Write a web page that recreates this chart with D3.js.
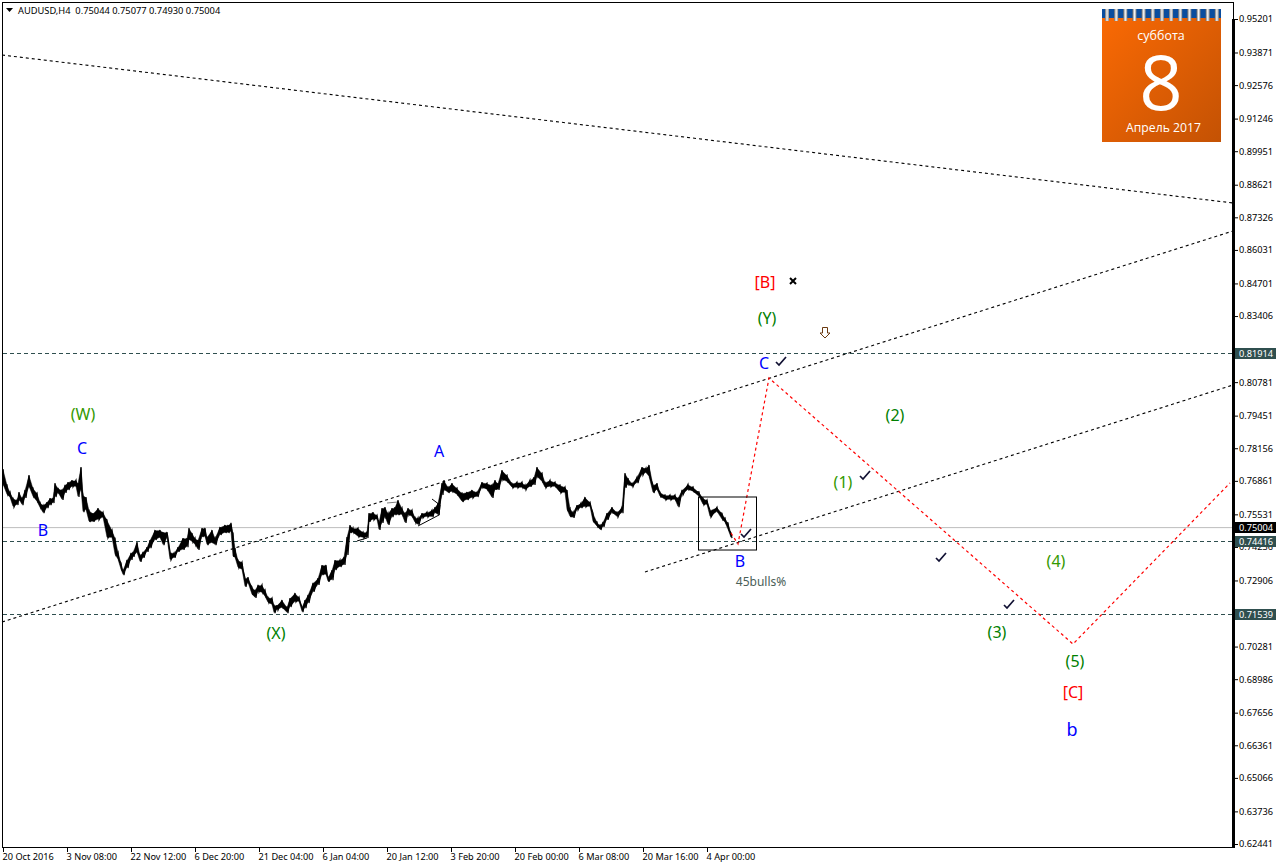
<!DOCTYPE html>
<html><head><meta charset="utf-8">
<style>
html,body{margin:0;padding:0;background:#fff;}
svg{display:block;}
text{font-family:"Noto Sans","Open Sans",sans-serif;}
.domain{display:none;}
</style>
<script src="https://cdn.jsdelivr.net/npm/d3@7"></script>
</head><body><div id="c"></div>
<script>
const priceTicks=[0.95201,0.93871,0.92576,0.91246,0.89951,0.88621,0.87326,0.86031,0.84701,0.83406,0.82076,0.80781,0.79451,0.78156,0.76861,0.75531,0.74236,0.72906,0.71611,0.70281,0.68986,0.67656,0.66361,0.65066,0.63736,0.62441];
const hiddenPriceLabels=[0.82076,0.71611];
const timeBars=[3,67,131,195,259,323,387,451,515,579,643,707];
const timeLabels=["20 Oct 2016","3 Nov 08:00","22 Nov 12:00","6 Dec 20:00","21 Dec 04:00","6 Jan 04:00","20 Jan 12:00","3 Feb 20:00","20 Feb 00:00","6 Mar 08:00","20 Mar 16:00","4 Apr 00:00"];
const bars=[3,7,10,13,17,19,22,25,29,33,37,40,43,47,50,53,55,58,62,65,68,72,76,78,81,83,86,89,93,98,103,107,112,115,118,121,123,127,131,133,137,140,143,147,150,155,160,163,167,170,174,178,183,187,189,192,195,198,202,205,207,212,215,220,225,228,231,233,235,238,242,245,248,252,255,258,262,265,268,272,274,277,282,287,290,295,299,302,305,308,313,318,322,326,328,332,335,340,344,347,350,353,358,363,367,369,373,377,379,382,385,388,392,395,398,402,405,408,412,415,418,422,427,432,435,438,442,444,448,452,457,462,467,472,477,482,487,492,495,498,502,507,512,517,522,525,530,534,537,542,545,550,555,560,565,567,570,573,577,581,585,590,593,597,600,603,607,612,617,622,625,628,632,637,642,646,649,653,657,660,665,670,675,678,682,688,693,699,703,707,710,717,722,725,728,731];
const highs=[.7733,.7670,.7642,.7618,.7610,.7642,.7618,.7650,.7709,.7658,.7638,.7602,.7590,.7602,.7618,.7618,.7677,.7658,.7650,.7670,.7681,.7689,.7689,.7677,.7741,.7630,.7622,.7570,.7558,.7578,.7562,.7531,.7491,.7459,.7404,.7360,.7332,.7372,.7400,.7404,.7443,.7392,.7404,.7423,.7451,.7491,.7491,.7483,.7483,.7404,.7400,.7423,.7459,.7459,.7499,.7479,.7459,.7451,.7499,.7499,.7463,.7491,.7459,.7503,.7511,.7511,.7519,.7479,.7419,.7372,.7364,.7300,.7304,.7265,.7253,.7273,.7273,.7253,.7225,.7221,.7193,.7193,.7213,.7185,.7221,.7241,.7225,.7185,.7213,.7233,.7281,.7300,.7352,.7352,.7304,.7332,.7372,.7372,.7384,.7463,.7511,.7499,.7499,.7483,.7483,.7558,.7562,.7550,.7523,.7578,.7582,.7558,.7578,.7582,.7610,.7578,.7558,.7578,.7570,.7542,.7539,.7558,.7562,.7570,.7582,.7598,.7677,.7689,.7662,.7677,.7658,.7638,.7642,.7650,.7642,.7681,.7677,.7670,.7689,.7677,.7729,.7709,.7677,.7681,.7681,.7670,.7689,.7701,.7741,.7717,.7681,.7689,.7681,.7670,.7662,.7650,.7578,.7562,.7590,.7598,.7622,.7602,.7558,.7523,.7511,.7523,.7558,.7582,.7562,.7582,.7717,.7697,.7677,.7701,.7741,.7737,.7749,.7670,.7677,.7642,.7630,.7630,.7630,.7618,.7650,.7673,.7662,.7642,.7618,.7610,.7570,.7582,.7558,.7539,.7519,.7479];
const lows=[.7670,.7630,.7618,.7582,.7590,.7610,.7590,.7618,.7662,.7622,.7602,.7578,.7558,.7578,.7590,.7598,.7622,.7638,.7610,.7638,.7650,.7662,.7662,.7622,.7650,.7562,.7570,.7523,.7523,.7531,.7539,.7459,.7459,.7392,.7372,.7332,.7312,.7340,.7372,.7384,.7400,.7364,.7380,.7404,.7419,.7451,.7459,.7431,.7459,.7372,.7380,.7404,.7412,.7423,.7451,.7443,.7431,.7412,.7463,.7463,.7431,.7439,.7431,.7471,.7479,.7479,.7483,.7384,.7380,.7340,.7332,.7265,.7280,.7233,.7221,.7245,.7241,.7225,.7201,.7193,.7161,.7173,.7181,.7161,.7185,.7205,.7205,.7165,.7181,.7201,.7245,.7273,.7312,.7312,.7285,.7292,.7332,.7344,.7352,.7392,.7479,.7479,.7463,.7459,.7459,.7523,.7531,.7531,.7491,.7519,.7542,.7511,.7542,.7550,.7550,.7550,.7519,.7550,.7542,.7519,.7511,.7539,.7542,.7542,.7558,.7550,.7630,.7650,.7638,.7642,.7630,.7602,.7610,.7618,.7622,.7658,.7650,.7618,.7650,.7650,.7689,.7681,.7658,.7658,.7658,.7650,.7662,.7670,.7701,.7681,.7658,.7662,.7662,.7638,.7638,.7570,.7542,.7539,.7570,.7578,.7582,.7582,.7523,.7503,.7491,.7503,.7531,.7558,.7542,.7558,.7658,.7670,.7662,.7677,.7709,.7717,.7701,.7638,.7650,.7622,.7610,.7610,.7610,.7582,.7630,.7650,.7642,.7622,.7590,.7590,.7542,.7562,.7531,.7519,.7491,.7459];
const solidLevel=0.75004;
const dashedLevels=[0.81914,0.74416,0.71539];
const trendBars=[[2,1233],[2,1233],[645,1233]];
const trendPrices=[[.93771,.87895],[.71256,.86783],[.73242,.80667]];
const forecastBars=[731,738,769,1073,1230];
const forecastPrices=[.74790,.74353,.80945,.70383,.76776];
const boxBars=[698,756];
const boxPrices=[.76220,.74115];
const channelBars=[[418,439],[432,440],[440,439],[357,367]];
const channelPrices=[[.75068,.75505],[.76140,.75902],[.75902,.75505],[.74473,.74592]];
const greyBars=[387,398];
const greyPrices=[.75982,.76021];
const labelText=["[B]","(Y)","C","(W)","C","B","A","(X)","B","45bulls%","(2)","(1)","(4)","(3)","(5)","[C]","b"];
const labelBars=[765,767,764,83,82,43,439,276,740,761,895,843,1056,997,1075,1073,1072];
const labelPrices=[.84757,.83328,.81541,.79516,.78166,.74909,.78047,.70819,.73679,.72884,.79476,.76816,.73679,.70859,.69708,.68477,.67007];
const labelColors=["#ff0000","#008000","#0000ff","#339900","#0000ff","#0000ff","#0000ff","#008000","#0000ff","#4a6058","#008000","#339900","#339900","#008000","#008000","#ff0000","#0000ff"];
const labelSizes=[16,16,16,16,16,16,16,16,16,12,16,16,16,16,16,16,18];
const checkBars=[781,746,865,941,1009];
const checkPrices=[.81620,.74790,.77094,.73837,.71971];
const crossBar=793, crossPrice=.84797;
const arrowBar=825, arrowPrice=.82732;
const ringCount=d3.range(13);

const W=1276,H=868;
const x=d3.scaleLinear().domain([0,1233]).range([0,1233]);
const y=d3.scaleLinear().domain([0.95201,0.62441]).range([19,844]);
const svg=d3.select("#c").append("svg").attr("width",W).attr("height",H).attr("viewBox",`0 0 ${W} ${H}`);
const defs=svg.append("defs");
const g=defs.append("linearGradient").attr("id","cal").attr("x1","0").attr("y1","0").attr("x2","1").attr("y2","1");
g.append("stop").attr("offset","0").attr("stop-color","#fb6a04");
g.append("stop").attr("offset","1").attr("stop-color","#c45204");
const rg=defs.append("linearGradient").attr("id","ring").attr("x1","0").attr("x2","1").attr("y1","0").attr("y2","0");
rg.append("stop").attr("offset","0").attr("stop-color","#6e6e6e");
rg.append("stop").attr("offset",".5").attr("stop-color","#f4f4f4");
rg.append("stop").attr("offset","1").attr("stop-color","#8a8a8a");

// frame
svg.append("rect").attr("x",2.5).attr("y",2.5).attr("width",1231).attr("height",845).attr("fill","none").attr("stroke","#000").attr("stroke-width",1);

// horizontal levels
svg.append("line").attr("x1",3).attr("x2",1232).attr("y1",y(solidLevel)).attr("y2",y(solidLevel)).attr("stroke","#bdbdbd").attr("stroke-width",1);
svg.selectAll(".lvl").data(dashedLevels).join("line").attr("x1",3).attr("x2",1232)
 .attr("y1",d=>Math.round(y(d))-.5).attr("y2",d=>Math.round(y(d))-.5).attr("stroke","#2f4f4f").attr("stroke-width",1).attr("stroke-dasharray","4 3");

// trend lines
const line=d3.line();
trendBars.forEach((b,i)=>{
 svg.append("path").attr("d",line(b.map((v,j)=>[x(v),y(trendPrices[i][j])]))).attr("fill","none").attr("stroke","#000").attr("stroke-width",1.1).attr("stroke-dasharray","3 3");
});
channelBars.forEach((b,i)=>{
 svg.append("path").attr("d",line(b.map((v,j)=>[x(v),y(channelPrices[i][j])]))).attr("fill","none").attr("stroke","#000").attr("stroke-width",1);
});
svg.append("path").attr("d",line(greyBars.map((v,j)=>[x(v),y(greyPrices[j])]))).attr("fill","none").attr("stroke","#808080").attr("stroke-width",1);

// price: high-low band and jagged bars
const band=d3.area().x((d,i)=>x(bars[i])).y0((d,i)=>y(lows[i])-.8).y1((d,i)=>y(highs[i])+.8);
svg.append("path").attr("d",band(bars)).attr("fill","#000").attr("stroke","#000").attr("stroke-width",.5);
const zig=[];
bars.forEach((b,i)=>{zig.push([x(b),y(highs[i])]);zig.push([x(b)+1,y(lows[i])]);});
svg.append("path").attr("d",line(zig)).attr("fill","none").attr("stroke","#000").attr("stroke-width",1.2);

// forecast
svg.append("path").attr("d",line(forecastBars.map((v,j)=>[x(v),y(forecastPrices[j])]))).attr("fill","none").attr("stroke","#ff0000").attr("stroke-width",1.2).attr("stroke-dasharray","3 3");

// box
svg.append("rect").attr("x",x(boxBars[0])+.5).attr("y",y(boxPrices[0])).attr("width",x(boxBars[1])-x(boxBars[0])).attr("height",y(boxPrices[1])-y(boxPrices[0])).attr("fill","none").attr("stroke","#000").attr("stroke-width",1);

// wave labels
svg.selectAll(".wl").data(labelText).join("text").attr("x",(d,i)=>x(labelBars[i])).attr("y",(d,i)=>y(labelPrices[i])).attr("text-anchor","middle").attr("dominant-baseline","central")
 .attr("fill",(d,i)=>labelColors[i]).attr("font-size",(d,i)=>labelSizes[i]).text(d=>d);

// glyph markers
svg.selectAll(".chk").data(checkBars).join("path").attr("transform",(d,i)=>`translate(${x(d)},${y(checkPrices[i])})`)
 .attr("d","M-5 1 L-2 4 L5 -4").attr("fill","none").attr("stroke","#111133").attr("stroke-width",1.7);
svg.append("path").attr("transform",`translate(${x(crossBar)},${y(crossPrice)})`).attr("d","M-3 -3 L3 3 M3 -3 L-3 3").attr("stroke","#000").attr("stroke-width",2);
svg.append("path").attr("transform",`translate(${x(arrowBar)},${y(arrowPrice)})`).attr("d","M-2.5 -5.5 H2.5 V0 H5 L0 5 L-5 0 H-2.5 Z").attr("fill","#fff").attr("stroke","#6b3a10").attr("stroke-width",1);

// thick price axis bar
svg.append("rect").attr("x",1232).attr("y",19).attr("width",3).attr("height",829).attr("fill","#000");

// axes
const ay=d3.axisRight(y).tickValues(priceTicks).tickSize(3).tickPadding(1).tickFormat(d=>hiddenPriceLabels.includes(d)?"":d3.format(".5f")(d));
const gy=svg.append("g").attr("transform","translate(1235,0)").call(ay);
gy.selectAll("text").attr("font-size",9.2).attr("fill","#000").style("font-family",'"Noto Sans",sans-serif');
gy.selectAll("line").attr("stroke","#000");
const ax=d3.axisBottom(x).tickValues(timeBars).tickSize(4).tickPadding(1).tickFormat((d,i)=>timeLabels[i]);
const gx=svg.append("g").attr("transform","translate(0,848)").call(ax);
gx.selectAll("text").attr("font-size",9.2).attr("fill","#000").attr("text-anchor","start").attr("dx",-1).style("font-family",'"Noto Sans",sans-serif');
gx.selectAll("line").attr("stroke","#000");

// price tags
const tags=[[solidLevel,"#000"],...dashedLevels.map(d=>[d,"#2f4f4f"])];
tags.forEach(([p,c])=>{
 const yy=Math.round(y(p));
 svg.append("rect").attr("x",1235).attr("y",yy-6).attr("width",41).attr("height",11).attr("fill",c);
 svg.append("text").attr("x",1239).attr("y",yy-.5).attr("dominant-baseline","central").attr("font-size",9.2).attr("fill","#fff").text(d3.format(".5f")(p));
});

// header
svg.append("path").attr("d","M6 8 H13 L9.5 12 Z").attr("fill","#000");
svg.append("text").attr("x",18).attr("y",14).attr("font-size",9.3).attr("fill","#000").attr("xml:space","preserve").text("AUDUSD,H4  0.75044 0.75077 0.74930 0.75004");

// calendar
const cal=svg.append("g");
cal.append("rect").attr("x",1102).attr("y",9).attr("width",119).attr("height",133).attr("fill","url(#cal)");
cal.append("rect").attr("x",1102).attr("y",9).attr("width",119).attr("height",9).attr("fill","#0a4d9e");
cal.selectAll(".r").data(ringCount).join("rect").attr("x",i=>1105+i*9.15).attr("y",9).attr("width",4).attr("height",12).attr("fill","url(#ring)");
cal.append("text").attr("x",1161).attr("y",35).attr("text-anchor","middle").attr("dominant-baseline","central").attr("font-size",12.5).attr("fill","#fff").attr("style",'font-family:"Open Sans",sans-serif').text("суббота");
cal.append("text").attr("x",1161).attr("y",80).attr("text-anchor","middle").attr("dominant-baseline","central").attr("font-size",76).attr("fill","#fff").attr("style",'font-family:"Open Sans",sans-serif').attr("font-weight",400).text("8");
cal.append("text").attr("x",1163.5).attr("y",127).attr("text-anchor","middle").attr("dominant-baseline","central").attr("font-size",12.2).attr("fill","#fff").attr("style",'font-family:"Open Sans",sans-serif').text("Апрель 2017");
</script></body></html>
